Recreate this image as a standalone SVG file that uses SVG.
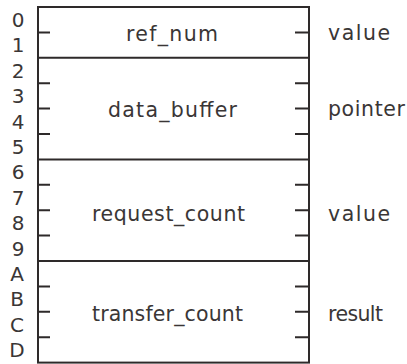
<svg xmlns="http://www.w3.org/2000/svg" width="407" height="364" viewBox="0 0 407 364">
<style>
.ln{stroke:#2e2a2a;stroke-width:2;fill:none}
.t{font-family:"DejaVu Sans",sans-serif;fill:#3a3636}
.d{font-size:20px;text-anchor:middle}
.c{font-size:20.5px;text-anchor:middle}
.r{font-size:20.5px}
</style>
<rect width="407" height="364" fill="#fff"/>
<g id="frame">
<rect class="ln" x="38" y="7" width="271" height="355.6"/>
</g>
<g id="connectors">
<path class="ln" d="M38 57.8H309M38 159.4H309M38 261H309"/>
<path class="ln" d="M38 32.4H50M38 83.2H50M38 108.6H50M38 134H50M38 184.8H50M38 210.2H50M38 235.6H50M38 286.4H50M38 311.8H50M38 337.2H50"/>
<path class="ln" d="M295 32.4H309M295 83.2H309M295 108.6H309M295 134H309M295 184.8H309M295 210.2H309M295 235.6H309M295 286.4H309M295 311.8H309M295 337.2H309"/>
</g>
<g id="offsets" class="t d">
<text x="18" y="27">0</text>
<text x="18" y="52.4">1</text>
<text x="18" y="77.8">2</text>
<text x="18" y="103.2">3</text>
<text x="18" y="128.6">4</text>
<text x="18" y="154">5</text>
<text x="18" y="179.4">6</text>
<text x="18" y="204.8">7</text>
<text x="18" y="230.2">8</text>
<text x="18" y="255.6">9</text>
<text x="17" y="281">A</text>
<text x="17" y="306.4">B</text>
<text x="17" y="331.8">C</text>
<text x="17" y="357.2">D</text>
</g>
<g id="ref_num"><text class="t c" x="172" y="41" textLength="92" lengthAdjust="spacing">ref_num</text><text class="t r" x="328" y="40" textLength="62" lengthAdjust="spacing">value</text></g>
<g id="data_buffer"><text class="t c" x="172.5" y="117" textLength="129" lengthAdjust="spacing">data_buffer</text><text class="t r" x="328" y="116" textLength="77" lengthAdjust="spacing">pointer</text></g>
<g id="request_count"><text class="t c" x="168.5" y="221" textLength="153" lengthAdjust="spacing">request_count</text><text class="t r" x="328" y="221" textLength="62" lengthAdjust="spacing">value</text></g>
<g id="transfer_count"><text class="t c" x="167.5" y="321" textLength="151" lengthAdjust="spacing">transfer_count</text><text class="t r" x="328" y="321" textLength="55" lengthAdjust="spacing">result</text></g>
</svg>
